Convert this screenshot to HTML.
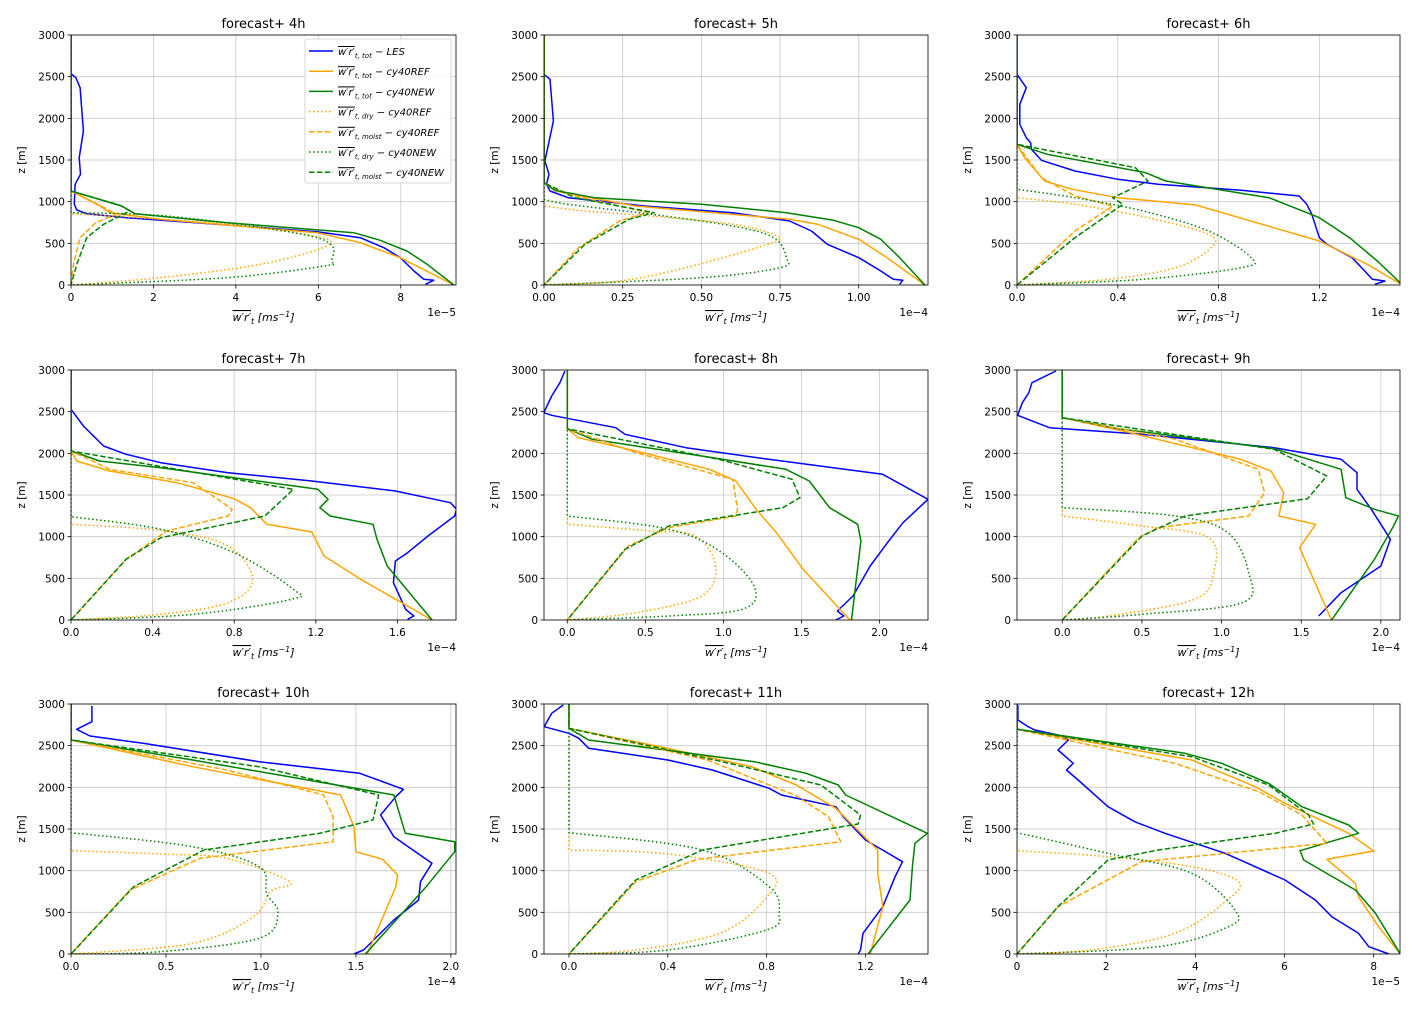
<!DOCTYPE html>
<html><head><meta charset="utf-8"><title>forecast profiles</title>
<style>
html,body{margin:0;padding:0;background:#fff;}
svg{display:block;font-family:"DejaVu Sans","Liberation Sans",sans-serif;}
</style></head>
<body>
<svg id="chart" width="1420" height="1010" viewBox="0 0 1420 1010" xmlns="http://www.w3.org/2000/svg"></svg>
<script>
// ---- data: [x (scaled by offset), z (m)] ----
const les4=[[0,2536],[0.12,2488],[0.22,2368],[0.30,1848],[0.20,1528],[0.23,1328],[0.10,1208],[0.08,968],[0.14,900],[0.38,856],[1.35,808],[3.78,720],[5.97,640],[7.02,568],[7.59,448],[7.99,328],[8.32,168],[8.56,68],[8.80,56],[8.6,8]];
const refTot4=[[0,3000],[0,1128],[0.70,948],[0.95,868],[2.16,788],[5.97,628],[7.02,508],[7.99,328],[9.29,0]];
const newTot4=[[0,3000],[0,1128],[1.23,948],[1.55,856],[3.78,748],[6.86,628],[7.5,536],[8.15,408],[8.64,248],[9.29,0]];
const refDry4=[[0,3000],[0,856],[1.35,816],[3.78,728],[5.89,588],[6.21,468],[4.59,248],[2.16,88],[0,0]];
const newDry4=[[0,3000],[0,868],[2.5,820],[5.97,568],[6.33,288],[6.13,228],[3.78,88],[0,0]];
const refMoist4=[[0,3000],[0,1128],[0.7,956],[1.1,848],[0.6,748],[0.22,568],[0.06,248],[0,0]];
const newMoist4=[[0,3000],[0,1128],[1.19,956],[1.43,888],[0.79,728],[0.38,568],[0.14,248],[0,0]];

const les5=[[0,2528],[0.019,2468],[0.03,1968],[0.003,1488],[0.016,1328],[0.008,1208],[0.019,1128],[0.077,1048],[0.32,948],[0.60,868],[0.78,768],[0.85,648],[0.90,488],[1.0,328],[1.07,168],[1.11,68],[1.14,56],[1.13,8]];
const refTot5=[[0,3000],[0,1228],[0.035,1128],[0.29,948],[0.78,788],[0.87,728],[1.0,548],[1.09,328],[1.21,0]];
const newTot5=[[0,3000],[0,1228],[0.035,1136],[0.16,1048],[0.50,968],[0.77,868],[0.92,776],[1.0,688],[1.07,548],[1.13,328],[1.21,0]];
const refDry5=[[0,3000],[0,948],[0.13,888],[0.34,828],[0.60,728],[0.74,588],[0.71,488],[0.45,208],[0.24,48],[0,0]];
const newDry5=[[0,3000],[0,1028],[0.077,968],[0.34,848],[0.60,708],[0.73,568],[0.77,328],[0.75,208],[0.50,88],[0,0]];
const refMoist5=[[0,3000],[0,1228],[0.077,1088],[0.33,868],[0.24,768],[0.11,448],[0,0]];
const newMoist5=[[0,3000],[0,1228],[0.098,1048],[0.35,868],[0.27,788],[0.13,488],[0,0]];

const les6=[[0,2528],[0.037,2368],[0.011,2168],[0.011,1928],[0.037,1768],[0.054,1708],[0.057,1628],[0.097,1496],[0.23,1368],[0.40,1268],[0.56,1208],[0.89,1136],[1.12,1068],[1.15,968],[1.17,848],[1.20,568],[1.23,488],[1.33,328],[1.38,168],[1.41,68],[1.46,48],[1.42,8]];
const refTot6=[[0,3000],[0,1688],[0.03,1528],[0.11,1248],[0.22,1148],[0.40,1048],[0.71,960],[1.20,528],[1.39,248],[1.53,0]];
const newTot6=[[0,3000],[0,1688],[0.12,1568],[0.51,1348],[0.59,1248],[1.0,1048],[1.20,808],[1.32,568],[1.43,288],[1.53,0]];
const refDry6=[[0,3000],[0,1048],[0.23,968],[0.52,808],[0.76,608],[0.77,448],[0.63,208],[0.36,68],[0,0]];
const newDry6=[[0,3000],[0,1148],[0.23,1048],[0.50,888],[0.76,648],[0.93,328],[0.89,208],[0.50,68],[0,0]];
const refMoist6=[[0,3000],[0,1688],[0.097,1288],[0.23,1068],[0.38,948],[0.23,648],[0,0]];
const newMoist6=[[0,3000],[0,1688],[0.47,1408],[0.52,1248],[0.38,1048],[0.42,968],[0.23,568],[0,0]];

const les7=[[0,2528],[0.061,2328],[0.16,2088],[0.27,1988],[0.44,1888],[0.77,1768],[1.18,1668],[1.59,1548],[1.86,1408],[1.89,1328],[1.88,1248],[1.75,1008],[1.65,808],[1.59,708],[1.58,448],[1.64,128],[1.68,48],[1.65,8]];
const refTot7=[[0,3000],[0,2028],[0.028,1908],[0.19,1788],[0.52,1648],[0.80,1456],[0.88,1348],[0.96,1148],[1.18,1056],[1.24,768],[1.42,488],[1.77,0]];
const newTot7=[[0,3000],[0,2028],[0.14,1908],[0.44,1828],[1.21,1568],[1.26,1448],[1.22,1348],[1.27,1248],[1.48,1148],[1.50,968],[1.55,648],[1.77,0]];
const refDry7=[[0,3000],[0,1148],[0.47,1068],[0.77,888],[0.89,488],[0.77,208],[0.44,68],[0,0]];
const newDry7=[[0,3000],[0,1240],[0.44,1088],[0.80,808],[1.09,368],[1.08,248],[0.60,68],[0,0]];
const refMoist7=[[0,3000],[0,2028],[0.19,1808],[0.60,1648],[0.79,1328],[0.77,1248],[0.47,1068],[0.27,728],[0,0]];
const newMoist7=[[0,3000],[0,2028],[1.09,1568],[0.95,1248],[0.44,988],[0.27,728],[0,0]];

const les8=[[-0.015,2988],[-0.047,2848],[-0.10,2688],[-0.15,2488],[-0.10,2456],[0.31,2308],[0.37,2228],[0.76,2068],[1.29,1928],[2.02,1748],[2.31,1448],[2.15,1168],[2.05,928],[1.94,648],[1.83,288],[1.73,108],[1.77,48],[1.72,0]];
const refTot8=[[0,3000],[0,2296],[0.07,2188],[0.44,2028],[0.91,1808],[1.08,1668],[1.21,1328],[1.34,1048],[1.51,608],[1.81,0]];
const newTot8=[[0,3000],[0,2296],[0.16,2168],[0.86,1968],[1.40,1808],[1.55,1668],[1.68,1348],[1.86,1148],[1.88,948],[1.82,0]];
const refDry8=[[0,3000],[0,1148],[0.54,1068],[0.82,1008],[0.95,648],[0.86,288],[0.44,88],[0,0]];
const newDry8=[[0,3000],[0,1248],[0.65,1088],[0.99,808],[1.20,388],[1.12,128],[0.65,48],[0,0]];
const refMoist8=[[0,3000],[0,2296],[0.44,2008],[1.06,1688],[1.09,1328],[1.08,1248],[0.65,1108],[0.39,888],[0,0]];
const newMoist8=[[0,3000],[0,2296],[0.97,1928],[1.44,1688],[1.49,1468],[1.38,1348],[0.65,1128],[0.37,848],[0,0]];

const les9=[[-0.04,2988],[-0.19,2848],[-0.21,2728],[-0.25,2608],[-0.28,2456],[-0.08,2308],[0.50,2228],[1.33,2068],[1.75,1928],[1.85,1768],[1.85,1568],[1.94,1328],[2.06,968],[2.0,648],[1.75,328],[1.61,48]];
const refTot9=[[0,3000],[0,2428],[0.38,2268],[1.12,1928],[1.31,1788],[1.39,1528],[1.36,1248],[1.59,1148],[1.49,868],[1.69,0]];
const newTot9=[[0,3000],[0,2428],[0.35,2296],[1.33,2056],[1.75,1808],[1.78,1468],[1.96,1328],[2.11,1248],[2.08,1128],[1.96,728],[1.69,0]];
const refDry9=[[0,3000],[0,1248],[0.50,1128],[0.92,988],[0.95,568],[0.83,248],[0.29,48],[0,0]];
const newDry9=[[0,3000],[0,1348],[0.71,1248],[1.04,1048],[1.17,568],[1.13,208],[0.50,68],[0,0]];
const refMoist9=[[0,3000],[0,2428],[0.71,2168],[1.23,1808],[1.27,1528],[1.17,1248],[0.60,1108],[0.48,988],[0,0]];
const newMoist9=[[0,3000],[0,2428],[1.33,2048],[1.66,1728],[1.54,1456],[0.77,1248],[0.50,1008],[0,0]];

const les10=[[0.11,2976],[0.11,2788],[0.03,2696],[0.10,2616],[0.38,2528],[0.99,2308],[1.52,2168],[1.75,1976],[1.71,1888],[1.63,1668],[1.70,1408],[1.90,1088],[1.84,868],[1.83,648],[1.70,408],[1.54,48],[1.49,0]];
const refTot10=[[0,3000],[0,2568],[0.64,2248],[1.42,1908],[1.49,1528],[1.50,1228],[1.64,1136],[1.72,948],[1.71,808],[1.56,0]];
const newTot10=[[0,3000],[0,2568],[0.64,2328],[1.70,1908],[1.76,1448],[2.02,1348],[2.02,1228],[1.87,808],[1.55,0]];
const refDry10=[[0,3000],[0,1240],[0.47,1200],[0.82,1148],[1.15,868],[1.05,748],[0.96,448],[0.64,128],[0,0]];
const newDry10=[[0,3000],[0,1456],[0.64,1288],[0.99,1048],[1.03,728],[1.09,488],[0.99,188],[0.47,28],[0,0]];
const refMoist10=[[0,3000],[0,2568],[0.82,2208],[1.33,1908],[1.38,1648],[1.38,1348],[0.68,1148],[0.31,768],[0,0]];
const newMoist10=[[0,3000],[0,2568],[0.99,2248],[1.62,1908],[1.59,1608],[1.31,1448],[0.70,1248],[0.33,808],[0,0]];

const les11=[[-0.023,2988],[-0.07,2888],[-0.10,2728],[0,2648],[0.04,2588],[0.08,2468],[0.40,2328],[0.58,2208],[0.81,1988],[0.86,1908],[1.08,1768],[1.11,1648],[1.20,1368],[1.35,1108],[1.32,928],[1.27,568],[1.19,248],[1.18,48],[1.17,0]];
const refTot11=[[0,3000],[0,2708],[0.40,2468],[0.74,2248],[0.92,2028],[1.08,1748],[1.25,1248],[1.25,968],[1.27,568],[1.22,0]];
const newTot11=[[0,3000],[0,2708],[0.08,2568],[0.75,2308],[0.96,2168],[1.09,2028],[1.12,1908],[1.45,1448],[1.40,1328],[1.39,1048],[1.38,648],[1.21,0]];
const refDry11=[[0,3000],[0,1248],[0.40,1200],[0.81,968],[0.79,648],[0.61,248],[0.27,48],[0,0]];
const newDry11=[[0,3000],[0,1456],[0.54,1248],[0.81,808],[0.85,488],[0.80,288],[0.40,48],[0,0]];
const refMoist11=[[0,3000],[0,2708],[0.56,2328],[0.92,1898],[1.05,1648],[1.10,1348],[0.52,1136],[0.27,868],[0,0]];
const newMoist11=[[0,3000],[0,2708],[0.62,2308],[1.02,2028],[1.18,1668],[1.17,1560],[0.54,1248],[0.27,888],[0,0]];

const les12=[[0.02,2988],[0.02,2808],[0.25,2728],[0.40,2688],[0.92,2628],[1.15,2568],[0.92,2448],[1.26,2288],[1.11,2208],[1.37,2088],[2.04,1768],[2.64,1588],[3.32,1448],[4.67,1208],[6.01,888],[6.69,648],[7.06,448],[7.66,248],[7.89,88],[8.34,0]];
const refTot12=[[0,3000],[0,2696],[3.92,2328],[5.34,2008],[6.01,1808],[7.44,1448],[8.0,1236],[6.95,1136],[7.59,848],[7.66,688],[8.11,328],[8.6,0]];
const newTot12=[[0,3000],[0,2696],[3.77,2408],[4.59,2288],[5.64,2048],[6.39,1768],[7.44,1548],[7.66,1448],[6.35,1240],[6.43,1128],[7.59,768],[8.04,488],[8.6,0]];
const refDry12=[[0,3000],[0,1240],[2.04,1168],[3.92,1048],[4.97,868],[4.67,628],[3.54,248],[1.67,48],[0,0]];
const newDry12=[[0,3000],[0,1456],[2.04,1208],[3.92,968],[4.89,528],[4.74,328],[3.17,88],[0,0]];
const refMoist12=[[0,3000],[0,2696],[3.54,2288],[5.42,1948],[6.39,1668],[6.95,1328],[2.79,1108],[0.92,568],[0,0]];
const newMoist12=[[0,3000],[0,2696],[3.92,2368],[5.64,2028],[6.54,1668],[6.65,1560],[5.79,1448],[3.17,1248],[2.04,1128],[0.92,568],[0,0]];

const titles=["forecast+ 4h","forecast+ 5h","forecast+ 6h","forecast+ 7h","forecast+ 8h","forecast+ 9h","forecast+ 10h","forecast+ 11h","forecast+ 12h"];
const xTicks=[[0,2,4,6,8],[0,0.25,0.5,0.75,1.0],[0,0.4,0.8,1.2],[0,0.4,0.8,1.2,1.6],[0,0.5,1.0,1.5,2.0],[0,0.5,1.0,1.5,2.0],[0,0.5,1.0,1.5,2.0],[0,0.4,0.8,1.2],[0,2,4,6,8]];
const xTickLabels=[["0","2","4","6","8"],["0.00","0.25","0.50","0.75","1.00"],["0.0","0.4","0.8","1.2"],["0.0","0.4","0.8","1.2","1.6"],["0.0","0.5","1.0","1.5","2.0"],["0.0","0.5","1.0","1.5","2.0"],["0.0","0.5","1.0","1.5","2.0"],["0.0","0.4","0.8","1.2"],["0","2","4","6","8"]];
const offsets=["1e−5","1e−4","1e−4","1e−4","1e−4","1e−4","1e−4","1e−4","1e−5"];
const yTicks=[0,500,1000,1500,2000,2500,3000];
const xMins=[0,0,0,0,-0.149,-0.284,0,-0.101,0];
const xMaxs=[9.34,1.22,1.52,1.887,2.31,2.12,2.027,1.453,8.59];
const seriesData=[
 [les4,refTot4,newTot4,refDry4,refMoist4,newDry4,newMoist4],
 [les5,refTot5,newTot5,refDry5,refMoist5,newDry5,newMoist5],
 [les6,refTot6,newTot6,refDry6,refMoist6,newDry6,newMoist6],
 [les7,refTot7,newTot7,refDry7,refMoist7,newDry7,newMoist7],
 [les8,refTot8,newTot8,refDry8,refMoist8,newDry8,newMoist8],
 [les9,refTot9,newTot9,refDry9,refMoist9,newDry9,newMoist9],
 [les10,refTot10,newTot10,refDry10,refMoist10,newDry10,newMoist10],
 [les11,refTot11,newTot11,refDry11,refMoist11,newDry11,newMoist11],
 [les12,refTot12,newTot12,refDry12,refMoist12,newDry12,newMoist12]];
const seriesNames=["les-tot","cy40ref-tot","cy40new-tot","cy40ref-dry","cy40ref-moist","cy40new-dry","cy40new-moist"];
const seriesColors=["#0000ff","#ffa500","#008000","#ffa500","#ffa500","#008000","#008000"];
const seriesDash=["","","","1.5,2.5","5.5,2.4","1.5,2.5","5.5,2.4"];
const seriesSmooth=[false,false,false,true,false,true,false];
const legendSub=["t, tot","t, tot","t, tot","t, dry","t, moist","t, dry","t, moist"];
const legendRun=["LES","cy40REF","cy40NEW","cy40REF","cy40REF","cy40NEW","cy40NEW"];

const NS="http://www.w3.org/2000/svg";
const svg=document.getElementById('chart');
const colsX=[[71,456],[544,928],[1017,1400]];
const rowsY=[[35,285],[370,620],[704,954]];
function mk(tag,attrs,parent){const e=document.createElementNS(NS,tag);for(const k in attrs)e.setAttribute(k,attrs[k]);(parent||svg).appendChild(e);return e;}
function pathD(P,smooth){
  if(!smooth) return P.map((p,i)=>(i?'L':'M')+p[0].toFixed(1)+','+p[1].toFixed(1)).join('');
  let d='M'+P[0][0].toFixed(1)+','+P[0][1].toFixed(1)+'L'+P[1][0].toFixed(1)+','+P[1][1].toFixed(1);
  for(let i=1;i<P.length-1;i++){
    const p0=P[i-1],p1=P[i],p2=P[i+1],p3=P[Math.min(i+2,P.length-1)];
    const a=(i===1)?p1:p0;
    const c1=[p1[0]+(p2[0]-a[0])/6,p1[1]+(p2[1]-a[1])/6];
    const c2=[p2[0]-(p3[0]-p1[0])/6,p2[1]-(p3[1]-p1[1])/6];
    d+='C'+c1[0].toFixed(1)+','+c1[1].toFixed(1)+' '+c2[0].toFixed(1)+','+c2[1].toFixed(1)+' '+p2[0].toFixed(1)+','+p2[1].toFixed(1);
  }
  return d;
}

for(let p=0;p<9;p++){
  const [L,R]=colsX[p%3],[T,B]=rowsY[Math.floor(p/3)];
  const xs=v=>L+(v-xMins[p])/(xMaxs[p]-xMins[p])*(R-L);
  const ys=v=>B-v/3000*(B-T);
  const g=mk('g',{});
  
  
  const clipId='clip'+p;
  const cp=mk('clipPath',{id:clipId},g);mk('rect',{x:L,y:T,width:R-L,height:B-T},cp);
  yTicks.forEach(t=>{
    const gl=mk('line',{x1:L,x2:R,y1:ys(t),y2:ys(t),stroke:'#b0b0b0','stroke-width':0.8,'stroke-opacity':0.7},g);
    
    
    mk('line',{x1:L-3.5,x2:L,y1:ys(t),y2:ys(t),stroke:'#000','stroke-width':0.8},g);
    const tl=mk('text',{x:L-6,y:ys(t)+4,'text-anchor':'end','font-size':10.5},g);
    tl.textContent=String(t);
    
    
  });
  xTicks[p].forEach((t,i)=>{
    const gl=mk('line',{x1:xs(t),x2:xs(t),y1:T,y2:B,stroke:'#b0b0b0','stroke-width':0.8,'stroke-opacity':0.7},g);
    
    
    mk('line',{x1:xs(t),x2:xs(t),y1:B,y2:B+3.5,stroke:'#000','stroke-width':0.8},g);
    const tl=mk('text',{x:xs(t),y:B+16,'text-anchor':'middle','font-size':10.5},g);
    tl.textContent=xTickLabels[p][i];
    
    
  });
  const sg=mk('g',{'clip-path':'url(#'+clipId+')'},g);
  seriesData[p].forEach((arr,si)=>{
    const pts=arr.map(pt=>[xs(pt[0]),ys(pt[1])]);
    const path=mk('path',{d:pathD(pts,seriesSmooth[si]),fill:'none',stroke:seriesColors[si],'stroke-width':1.5,'stroke-linejoin':'round'},sg);
    if(seriesDash[si])path.setAttribute('stroke-dasharray',seriesDash[si]);
    
    
  });
  const fr=mk('rect',{x:L,y:T,width:R-L,height:B-T,fill:'none',stroke:'#000','stroke-width':0.8},g);
  
  
  const tt=mk('text',{x:(L+R)/2,y:T-7,'text-anchor':'middle','font-size':13},g);
  tt.textContent=titles[p];
  
  
  const yl=mk('text',{x:0,y:0,'text-anchor':'middle','font-size':10.5,transform:'translate('+(L-46)+','+((T+B)/2)+') rotate(-90)'},g);
  yl.textContent='z [m]';
  
  
  const xl=mk('text',{x:(L+R)/2,y:B+36,'text-anchor':'middle','font-size':11,'font-style':'italic'},g);
  xl.innerHTML='<tspan text-decoration="overline">w′r′</tspan><tspan font-size="8" dy="3">t</tspan><tspan dy="-3"> [ms</tspan><tspan font-size="8" dy="-4">−1</tspan><tspan dy="4">]</tspan>';
  
  
  const ot=mk('text',{x:R,y:B+31,'text-anchor':'end','font-size':10.5},g);
  ot.textContent=offsets[p];
  
  
}
const lg=mk('g',{});


mk('rect',{x:305,y:39,width:146,height:144,rx:2,fill:'#fff','fill-opacity':0.85,stroke:'#ccc','stroke-width':0.8},lg);
for(let i=0;i<7;i++){
  const y=51+i*20.2;
  const e=mk('g',{},lg);
  
  
  const ln=mk('line',{x1:309,x2:333,y1:y,y2:y,stroke:seriesColors[i],'stroke-width':1.5},e);
  if(seriesDash[i])ln.setAttribute('stroke-dasharray',seriesDash[i]);
  const t=mk('text',{x:338,y:y+4,'font-size':10,'font-style':'italic'},e);
  t.innerHTML='<tspan text-decoration="overline">w′r′</tspan><tspan font-size="7" dy="3">'+legendSub[i]+'</tspan><tspan dy="-3"> − '+legendRun[i]+'</tspan>';
}
</script>
</body></html>
